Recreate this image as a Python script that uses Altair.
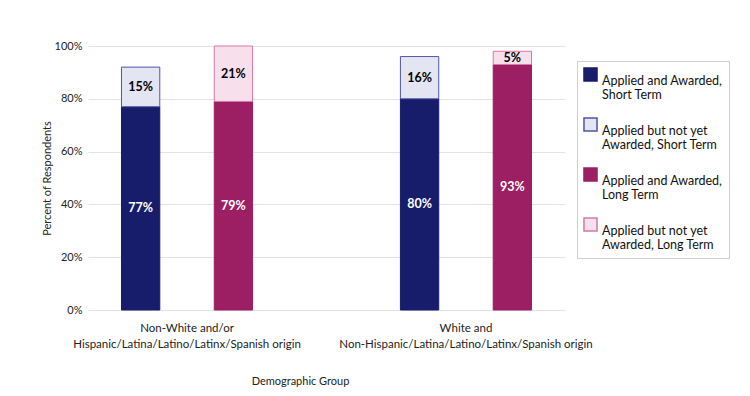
import altair as alt
import pandas as pd

groups = [
    "Non-White and/or|Hispanic/Latina/Latino/Latinx/Spanish origin",
    "White and|Non-Hispanic/Latina/Latino/Latinx/Spanish origin",
]
terms = ["Short Term", "Long Term"]
statuses = [
    "Applied and Awarded,|Short Term",
    "Applied but not yet|Awarded, Short Term",
    "Applied and Awarded,|Long Term",
    "Applied but not yet|Awarded, Long Term",
]
awarded_short = [77, 80]
pending_short = [15, 16]
awarded_long = [79, 93]
pending_long = [21, 5]

fills = ["#171c6b", "#e4e5f2", "#9b1f62", "#f7e0ec"]
strokes = ["#171c6b", "#4f55a3", "#9b1f62", "#d27aa8"]

rows = []
for i, g in enumerate(groups):
    for term, status_a, status_p, va, vp in [
        ("Short Term", statuses[0], statuses[1], awarded_short[i], pending_short[i]),
        ("Long Term", statuses[2], statuses[3], awarded_long[i], pending_long[i]),
    ]:
        rows.append(dict(group=g, term=term, status=status_a, value=va, ord=0,
                         label=f"{va}%", tc="white"))
        rows.append(dict(group=g, term=term, status=status_p, value=vp, ord=1,
                         label=f"{vp}%", tc="black"))
df = pd.DataFrame(rows)

FONT = "Lato"

x_enc = alt.X(
    "group:N", sort=groups,
    scale=alt.Scale(paddingInner=0.53, paddingOuter=0.12),
    axis=alt.Axis(
        title="Demographic Group", labelExpr="split(datum.label, '|')",
        labelAngle=0, labelLimit=500, ticks=False, domain=False,
        labelPadding=12, titlePadding=26, labelFontSize=11.5,
        titleFontSize=11, labelLineHeight=16, titleX=212,
    ),
)
xoff_enc = alt.XOffset("term:N", sort=terms,
                       scale=alt.Scale(paddingInner=0.587, paddingOuter=0))

legend_cfg = alt.Legend(
    title=None, orient="none", legendX=489, legendY=15,
    labelExpr="split(datum.label, '|')", symbolType="square",
    symbolSize=170, labelFontSize=12.5, labelLimit=300, rowPadding=12,
    padding=6, strokeColor="#cfcfcf",
    labelBaseline="top", labelOffset=4, symbolOffset=0,
)

bars = alt.Chart(df).mark_bar(strokeWidth=1).encode(
    x=x_enc,
    xOffset=xoff_enc,
    y=alt.Y(
        "value:Q", stack="zero",
        scale=alt.Scale(domain=[0, 100], nice=False),
        axis=alt.Axis(
            title="Percent of Respondents", values=[0, 20, 40, 60, 80, 100],
            labelExpr="datum.value + '%'", ticks=False, domain=False,
            gridColor="#e3e3e3", labelPadding=6, titlePadding=2,
            labelFontSize=11, titleFontSize=11,
        ),
    ),
    order=alt.Order("ord:Q", sort="ascending"),
    fill=alt.Fill("status:N", sort=statuses,
                  scale=alt.Scale(domain=statuses, range=fills), legend=legend_cfg),
    stroke=alt.Stroke("status:N", sort=statuses,
                      scale=alt.Scale(domain=statuses, range=strokes), legend=legend_cfg),
)

texts = alt.Chart(df).transform_stack(
    stack="value", groupby=["group", "term"], as_=["v0", "v1"],
    sort=[alt.SortField("ord", order="ascending")],
).transform_calculate(
    mid="(datum.v0 + datum.v1) / 2"
).mark_text(fontWeight="bold", fontSize=12.5, baseline="middle").encode(
    x=alt.X("group:N", sort=groups),
    xOffset=alt.XOffset("term:N", sort=terms),
    y=alt.Y("mid:Q"),
    text="label:N",
    color=alt.Color("tc:N", scale=None),
)

chart = alt.layer(bars, texts).properties(
    width=477, height=264,
    autosize=alt.AutoSizeParams(type="none"),
    padding={"left": 80, "top": 38, "right": 177, "bottom": 78},
    background="white",
).configure(font=FONT).configure_view(strokeWidth=0).configure_axis(
    labelColor="#222222", titleColor="#222222", titleFontWeight="normal",
).configure_legend(labelColor="#111111")

chart.save("out.html", embed_options={"renderer": "svg", "actions": False})
